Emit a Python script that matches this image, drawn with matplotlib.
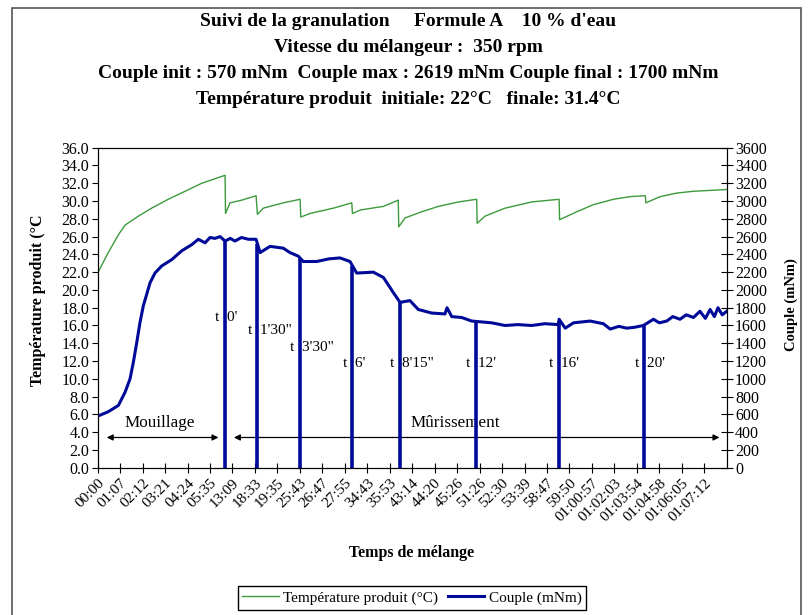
import numpy as np
import matplotlib
matplotlib.use("Agg")
import matplotlib.pyplot as plt
from matplotlib.patches import Rectangle

plt.rcParams['font.family'] = ['Liberation Serif', 'DejaVu Serif']

# tick labels of the category axis (one label every tick)
time_labels = ["00:00", "01:07", "02:12", "03:21", "04:24", "05:35", "13:09", "18:33",
               "19:35", "25:43", "26:47", "27:55", "34:43", "35:53", "43:14", "44:20",
               "45:26", "51:26", "52:30", "53:39", "58:47", "59:50", "01:00:57",
               "01:02:03", "01:03:54", "01:04:58", "01:06:05", "01:07:12"]

# temperature produit (°C), x in category-tick units
temp_x = [0.00, 0.47, 0.92, 1.22, 1.81, 2.40, 3.14, 3.89, 4.63, 5.67,
          5.69, 5.89, 6.41, 7.05,
          7.11, 7.37, 8.26, 9.01,
          9.04, 9.45, 10.49, 11.31,
          11.34, 11.70, 12.72, 13.38,
          13.40, 13.68, 14.43, 15.17, 16.06, 16.87,
          16.89, 17.24, 18.13, 19.32, 20.54,
          20.56, 21.33, 22.07, 22.96, 23.71, 24.38,
          24.40, 25.04, 25.78, 26.52, 28.00]
temp_y = [21.9, 24.2, 26.2, 27.3, 28.3, 29.2, 30.2, 31.1, 32.0, 32.9,
          28.6, 29.8, 30.1, 30.6,
          28.5, 29.2, 29.8, 30.2,
          28.2, 28.6, 29.2, 29.8,
          28.6, 29.0, 29.4, 30.1,
          27.1, 28.1, 28.8, 29.4, 29.9, 30.2,
          27.5, 28.3, 29.2, 29.9, 30.2,
          27.9, 28.8, 29.6, 30.2, 30.5, 30.6,
          29.8, 30.5, 30.9, 31.1, 31.3]

# couple (mNm)
couple_x = [0.00, 0.47, 0.92, 1.22, 1.44, 1.59, 1.74, 1.88, 2.03, 2.18,
            2.33, 2.55, 2.85, 3.29, 3.74, 4.19, 4.48, 4.78, 5.00, 5.22,
            5.45, 5.67, 5.90, 6.11, 6.40, 6.71, 7.05,
            7.23, 7.67, 8.26, 8.56, 8.93,
            9.15, 9.75, 10.30, 10.79, 11.23,
            11.53, 12.27, 12.72, 13.16, 13.46,
            13.90, 14.27, 14.87, 15.46, 15.55, 15.76, 16.20, 16.65,
            17.54, 18.13, 18.70, 19.32, 19.90, 20.51, 20.54, 20.81,
            21.18, 21.92, 22.51, 22.81, 23.20, 23.55, 23.90, 24.29,
            24.74, 25.00, 25.33, 25.60, 25.92, 26.20, 26.52, 26.81,
            27.05, 27.26, 27.45, 27.61, 27.80, 28.00]
couple_y = [580, 630, 700, 850, 1000, 1190, 1410, 1630, 1820, 1950,
            2080, 2190, 2270, 2340, 2440, 2510, 2570, 2530, 2590, 2580,
            2600, 2550, 2580, 2550, 2590, 2570, 2570,
            2420, 2490, 2470, 2420, 2380,
            2320, 2320, 2350, 2360, 2320,
            2190, 2200, 2140, 1970, 1860,
            1880, 1780, 1740, 1730, 1800, 1700, 1690, 1650,
            1630, 1600, 1610, 1600, 1620, 1610, 1670, 1570,
            1630, 1650, 1620, 1560, 1590, 1570, 1580, 1600,
            1670, 1630, 1650, 1700, 1670, 1720, 1690, 1760,
            1680, 1780, 1700, 1800, 1720, 1760]

# maturation sampling marks
mark_x = [5.67, 7.11, 9.01, 11.34, 13.46, 16.84, 20.53, 24.34]
mark_labels = ["t  0'", "t  1'30\"", "t  3'30\"", "t  6'", "t  8'15\"", "t  12'", "t  16'", "t  20'"]
mark_label_y = [16.9, 15.4, 13.5, 11.7, 11.7, 11.7, 11.7, 11.7]

green = '#3c9a3c'
blue = '#000a99'

fig = plt.figure(figsize=(8.08, 6.15), dpi=100)
ax = fig.add_axes([0.1209, 0.2395, 0.7785, 0.5203])
ax2 = ax.twinx()

ax.plot(temp_x, temp_y, color=green, lw=1.0, label='Température produit (°C)')
ax2.plot(couple_x, couple_y, color=blue, lw=2.2, label='Couple (mNm)')

for mx in mark_x:
    top = np.interp(mx, couple_x, couple_y)
    ax2.vlines(mx, 0, top, color=blue, lw=2.6)

for mx, lab, ly in zip(mark_x, mark_labels, mark_label_y):
    ax.annotate(lab, xy=(mx, ly), xytext=(-7, 0), textcoords='offset points',
                ha='left', va='center', fontsize=11)

# phase arrows
ax.annotate('', xy=(0.28, 3.4), xytext=(5.5, 3.4),
            arrowprops=dict(arrowstyle='<|-|>', color='black', lw=0.9, mutation_scale=9))
ax.annotate('', xy=(5.94, 3.4), xytext=(27.8, 3.4),
            arrowprops=dict(arrowstyle='<|-|>', color='black', lw=0.9, mutation_scale=9))
ax.text(2.78, 5.0, 'Mouillage', ha='center', va='center', fontsize=12.3)
ax.text(15.9, 5.0, 'Mûrissement', ha='center', va='center', fontsize=12.3)

ax.set_xlim(0, 28)
ax.set_ylim(0, 36)
ax2.set_ylim(0, 3600)
ax.set_xticks(np.arange(len(time_labels)))
ax.set_xticklabels(time_labels, rotation=45, ha='right', rotation_mode='anchor', fontsize=11)
ax.set_yticks(np.arange(0, 37, 2))
ax.set_yticklabels([f"{v:.1f}" for v in np.arange(0, 37, 2)], fontsize=11.5)
ax2.set_yticks(np.arange(0, 3601, 200))
ax2.tick_params(axis='y', direction='inout', length=8, labelsize=11.5, pad=2)
ax.tick_params(axis='x', direction='inout', length=7, pad=3)
ax.tick_params(axis='y', direction='out', length=4, pad=2)

fig.text(412 / 808, 1 - 553 / 615, 'Temps de mélange', ha='center', va='center',
         fontsize=11.5, fontweight='bold')
fig.text(38 / 808, 1 - 300 / 615, 'Température produit (°C', rotation=90,
         ha='center', va='center', fontsize=11.5, fontweight='bold')
fig.text(791 / 808, 1 - 305 / 615, 'Couple (mNm)', rotation=90,
         ha='center', va='center', fontsize=10.5, fontweight='bold')

titles = ["Suivi de la granulation     Formule A    10 % d'eau",
          "Vitesse du mélangeur :  350 rpm",
          "Couple init : 570 mNm  Couple max : 2619 mNm Couple final : 1700 mNm",
          "Température produit  initiale: 22°C   finale: 31.4°C"]
for i, t in enumerate(titles):
    fig.text(408 / 808, 1 - (22 + 25.7 * i) / 615, t, ha='center', va='center',
             fontsize=14, fontweight='bold')

handles = ax.get_lines()[:1] + ax2.get_lines()[:1]
fig.legend(handles, [h.get_label() for h in handles], loc='center',
           bbox_to_anchor=(412 / 808, 1 - 598 / 615), ncol=2, fontsize=11,
           fancybox=False, edgecolor='black', framealpha=1, handlelength=2.4,
           handletextpad=0.3, columnspacing=0.6, borderpad=0.3)

fig.patches.append(Rectangle((12 / 808, -0.05), 789 / 808, 1.05 - 8 / 615,
                             transform=fig.transFigure, fill=False,
                             edgecolor='#555555', lw=1.2))

fig.savefig('out.png', dpi=100)
